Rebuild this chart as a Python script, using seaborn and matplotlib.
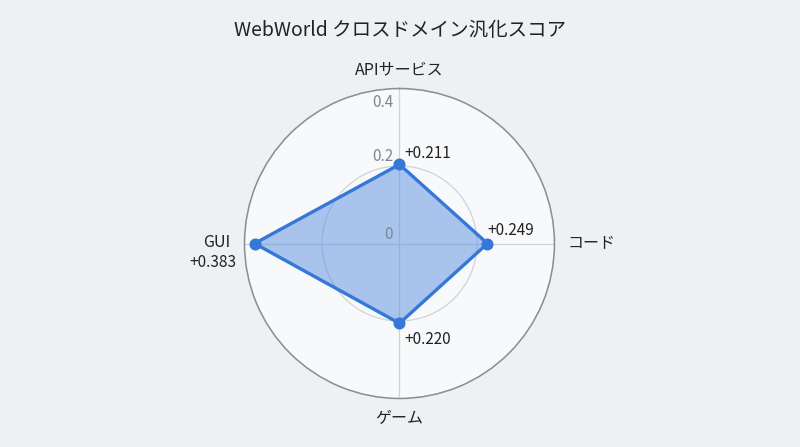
import numpy as np
import pandas as pd
import seaborn as sns
import matplotlib.pyplot as plt

# data
domains = ["APIサービス", "コード", "ゲーム", "GUI"]
scores = [0.204, 0.227, 0.206, 0.374]
score_labels = ["+0.211", "+0.249", "+0.220", "+0.383"]
r_ticks = [0, 0.2, 0.4]
r_tick_labels = ["0", "0.2", "0.4"]

sns.set_theme(style="white")
plt.rcParams['font.family'] = ['Noto Sans CJK JP', 'DejaVu Sans']

bg = "#eef1f4"
face = "#f7f9fa"
line_col = "#3578d8"
text_col = "#222222"

fig = plt.figure(figsize=(8, 4.47), dpi=100, facecolor=bg)
ax = fig.add_axes([0.3056, 0.1085, 0.3875, 0.6935], projection="polar")
ax.set_facecolor(face)
ax.set_theta_offset(np.pi / 2)
ax.set_theta_direction(-1)

angles = np.linspace(0, 2 * np.pi, len(domains), endpoint=False)
df = pd.DataFrame({"theta": angles, "r": scores})
closed = pd.concat([df, df.iloc[:1]], ignore_index=True)

ax.fill(closed["theta"], closed["r"], color="#5b8fe0", alpha=0.5, zorder=2)
ax.plot(closed["theta"], closed["r"], color=line_col, lw=2.4, zorder=3)
sns.scatterplot(data=df, x="theta", y="r", ax=ax, color=line_col, s=75,
                edgecolor=line_col, linewidth=0, zorder=4)

ax.set_ylim(0, 0.4)
ax.set_yticks(r_ticks)
ax.set_yticklabels([])
ax.set_xticks(angles)
ax.set_xticklabels([])
ax.set_xlabel("")
ax.set_ylabel("")

ax.grid(True, color="#cfd4da", lw=0.9)
ax.spines["polar"].set_color("#8a8f96")
ax.spines["polar"].set_linewidth(1.1)

# radial tick labels, just left of the vertical axis
r_offsets = [6.5, 6.5, -10]
for r, txt, dy in zip(r_ticks, r_tick_labels, r_offsets):
    ax.annotate(txt, (0, r), xytext=(-4.5, dy), textcoords="offset points",
                ha="right", va="center", fontsize=11, color="#7d8896", zorder=5)

# category labels outside the outer ring
cat_offsets = [(0, 7), (9, 0), (0, -8), (-10, 1)]
cat_aligns = [("center", "bottom"), ("left", "center"), ("center", "top"), ("right", "center")]
for th, txt, off, (ha, va) in zip(angles, domains, cat_offsets, cat_aligns):
    ax.annotate(txt, (th, r_ticks[-1]), xytext=off, textcoords="offset points",
                ha=ha, va=va, fontsize=11.5, color=text_col, annotation_clip=False)

# value labels next to each point
offsets = [(3.6, 8), (0, 9.4), (3.6, -11.5), (-13, -14)]
aligns = [("left", "center"), ("left", "center"), ("left", "center"), ("right", "center")]
for th, r, txt, off, (ha, va) in zip(angles, scores, score_labels, offsets, aligns):
    ax.annotate(txt, (th, r), xytext=off, textcoords="offset points",
                ha=ha, va=va, fontsize=11, color=text_col, zorder=5,
                annotation_clip=False)

fig.suptitle("WebWorld クロスドメイン汎化スコア", fontsize=14, color=text_col, y=0.955)

fig.savefig("out.png", dpi=100, facecolor=bg)
